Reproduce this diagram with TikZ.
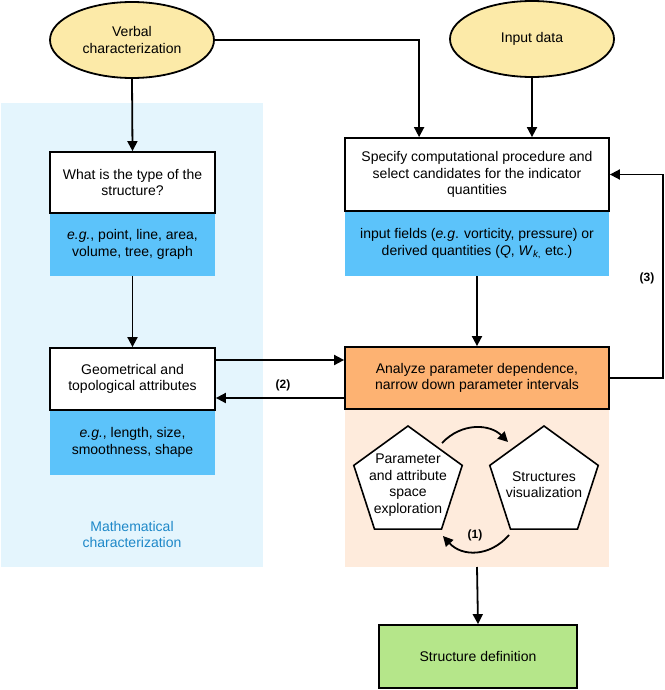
\documentclass[tikz,border=0pt]{standalone}
\usepackage{fontspec}
\setmainfont{Liberation Sans}
\usetikzlibrary{shapes.geometric,arrows.meta,calc}
\definecolor{ellyellow}{HTML}{FCEAA8}
\definecolor{stripblue}{HTML}{5CC3FA}
\definecolor{bgblue}{HTML}{E4F5FD}
\definecolor{boxorange}{HTML}{FDB272}
\definecolor{bgpeach}{HTML}{FEEBDC}
\definecolor{boxgreen}{HTML}{B5E68A}
\definecolor{mathblue}{HTML}{1E88C8}
\tikzset{
  every node/.style={font=\fontsize{14}{16.5}\selectfont, align=center, inner sep=0pt},
  ell/.style={ellipse, draw=black, line width=1.8pt, fill=ellyellow, minimum width=164pt, minimum height=76pt},
  wbox/.style={rectangle, draw=black, line width=1.8pt, fill=white},
  strip/.style={rectangle, fill=stripblue},
  pent/.style={regular polygon, regular polygon sides=5, draw=black, line width=1.6pt, fill=white, minimum size=114pt},
  arr/.style={line width=1.8pt, -{Triangle[length=10pt,width=10pt]}},
  lbl/.style={font=\fontsize{12}{14}\selectfont\bfseries},
}
\begin{document}
\begin{tikzpicture}[x=1pt,y=-1pt]
\useasboundingbox (0,0) rectangle (664,690);
% backgrounds
\fill[bgblue] (1,103) rectangle (263,567);
\fill[bgpeach] (345,409) rectangle (609,567);
% ellipses
\node[ell] (verbal) at (132,40) {Verbal\\characterization};
\node[ell] (input) at (532,39) {Input data};
% left column
\node[strip, minimum width=165pt, minimum height=63pt] (whatb) at (132.5,244.5) {\textit{e.g.}, point, line, area,\\volume, tree, graph};
\node[wbox, minimum width=165pt, minimum height=61pt] (what) at (132.5,182.5) {What is the type of the\\structure?};
\node[strip, minimum width=165pt, minimum height=65pt] (geob) at (132.5,442.5) {\textit{e.g.}, length, size,\\smoothness, shape};
\node[wbox, minimum width=165pt, minimum height=62pt] (geo) at (132.5,379) {Geometrical and\\topological attributes};
\node[text=mathblue] (mathc) at (132,534.5) {Mathematical\\characterization};
% right column
\node[strip, minimum width=264pt, minimum height=65pt] (specb) at (477,243.5) {input fields (\textit{e.g}. vorticity, pressure) or\\derived quantities (\textit{Q}, \textit{W}\textsubscript{\textit{k},} etc.)};
\node[wbox, minimum width=264pt, minimum height=73pt] (spec) at (477,174.5) {Specify computational procedure and\\select candidates for the indicator\\quantities};
\node[wbox, fill=boxorange, minimum width=264pt, minimum height=62pt] (analyze) at (477,378) {Analyze parameter dependence,\\narrow down parameter intervals};
\node[wbox, fill=boxgreen, minimum width=198pt, minimum height=63pt] (sdef) at (478,656.5) {Structure definition};
\coordinate (peachbottom) at (477,567);
% pentagons
\node[pent] (p1) at (408,483) {};
\node at (408,485) {Parameter\\and attribute\\space\\exploration};
\node[pent] (p2) at (544,483) {};
\node at (544,484.5) {Structures\\visualization};
% connectors
\draw[arr] (verbal.south) -- (what.north);
\draw[arr] (whatb.south) -- (geo.north);
\draw[arr] (verbal.east) -| ($(spec.north west)+(75,0)$);
\draw[arr] (input.south) -- (input.south |- spec.north);
\draw[arr] (specb.south) -- (analyze.north);
\draw[arr] ($(geo.east)+(0,-19)$) -- ($(geo.east -| analyze.west)+(0,-19)$);
\draw[arr] ($(geo.east -| analyze.west)+(0,19)$) -- ($(geo.east)+(0,19)$);
\node[lbl] (l2) at (283,385) {(2)};
\draw[arr] (analyze.east) -- ++(53,0) |- (spec.east);
\node[lbl] (l3) at (647,278) {(3)};
\draw[arr] (peachbottom) -- (sdef.north);
\coordinate (a1s) at (442,443);
\coordinate (a1e) at (508,442);
\coordinate (a2s) at (509,535);
\coordinate (a2e) at (443,536);
\draw[arr] (a1s) .. controls (462,422) and (490,424) .. (a1e);
\draw[arr] (a2s) .. controls (490,557) and (462,557) .. (a2e);
\node[lbl] (l1) at (475,535) {(1)};
\end{tikzpicture}
\end{document}
